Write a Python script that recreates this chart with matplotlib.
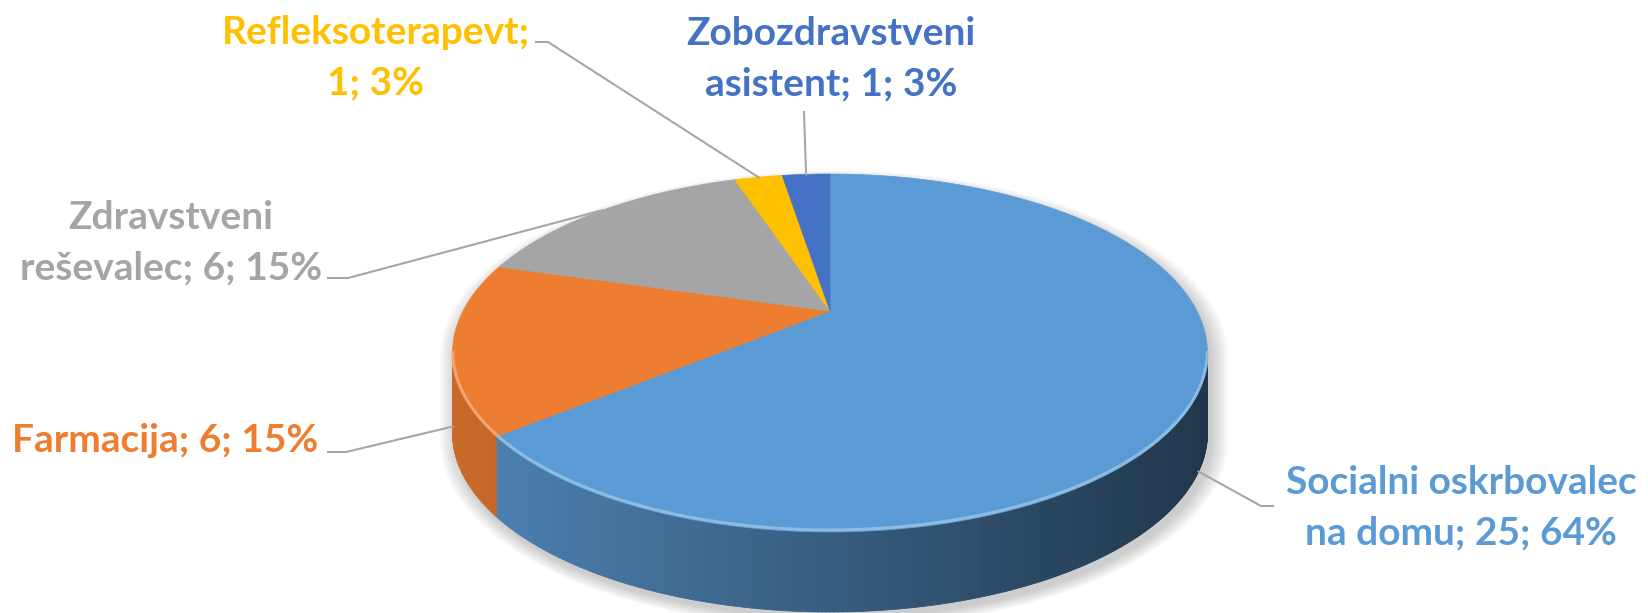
import numpy as np
import matplotlib

matplotlib.use("Agg")
import matplotlib.pyplot as plt
from matplotlib.collections import PolyCollection
from matplotlib.colors import to_rgb

# data, in the order Excel draws the slices (clockwise from 12 o'clock)
categories = ["Socialni oskrbovalec na domu", "Farmacija", "Zdravstveni reševalec",
              "Refleksoterapevt", "Zobozdravstveni asistent"]
values = [25, 6, 6, 1, 1]
colors = ["#5B9BD5", "#ED7D31", "#A5A5A5", "#FFC000", "#4472C4"]
wrap_after = ["oskrbovalec", None, "Zdravstveni", "Refleksoterapevt;", "Zobozdravstveni"]

# label placement (pixels) and leader-line elbows
label_pos = [(1461, 508), (165, 440), (171, 243), (376, 58), (831, 59)]
elbows = [[(1261, 506), (1273, 506)], [(346, 452), (328, 452)], [(348, 278), (328, 278)],
          [(548, 42), (536, 42)], [(804, 112)]]

W, H = 1648, 613
CX, CY = 830, 311                     # projected pie centre
F, D, ALPHA = 1388.0, 3.783, np.radians(27.45)
DEPTH = 80                            # side wall height on screen
LEADER = "#A6A6A6"


def project(phi):
    x, y = np.cos(phi), np.sin(phi)
    d = D + y * np.cos(ALPHA)
    return np.column_stack([CX + F * x / d, CY - F * y * np.sin(ALPHA) / d])


def shade(rgb, k):
    return tuple(np.clip(np.array(rgb) * k, 0, 1))


total = sum(values)
cum = np.concatenate([[0], np.cumsum(values)]) / total
th = np.pi / 2 - 2 * np.pi * cum              # slice boundaries, clockwise
phi_r = -np.arcsin(np.cos(ALPHA) / D)         # silhouette extremities
phi_l = -np.pi - phi_r
rx = F / np.sqrt(D**2 - np.cos(ALPHA) ** 2)

fig = plt.figure(figsize=(W / 100, H / 100), dpi=100)
ax = fig.add_axes([0, 0, 1, 1])
ax.set_xlim(0, W)
ax.set_ylim(H, 0)
ax.axis("off")

# soft shadow under the pie
upper = project(np.linspace(phi_r, phi_l + 2 * np.pi, 300))
lower = project(np.linspace(phi_l, phi_r, 300)) + [0, DEPTH]
sil = np.vstack([upper, lower])
centre = sil.mean(axis=0)
for k in range(12):
    pts = (sil - centre) * (1 + 0.004 * k) + centre + [4, 6]
    ax.fill(pts[:, 0], pts[:, 1], color="0.45", alpha=0.03, lw=0, zorder=1)

# side walls
quads, qcols = [], []
for i, c in enumerate(colors):
    a, b = th[i + 1], th[i]
    for shift in (0, -2 * np.pi, 2 * np.pi):
        lo, hi = max(a + shift, phi_l), min(b + shift, phi_r)
        if hi <= lo:
            continue
        ph = np.linspace(lo, hi, max(3, int(np.degrees(hi - lo) * 2)))
        p = project(ph)
        for j in range(len(ph) - 1):
            q = [p[j], p[j + 1], p[j + 1] + [0, DEPTH], p[j] + [0, DEPTH]]
            u = (0.5 * (p[j, 0] + p[j + 1, 0]) - CX) / rx
            quads.append(q)
            qcols.append(shade(to_rgb(c), 0.6 - 0.25 * u))
ax.add_collection(PolyCollection(quads, facecolors=qcols, edgecolors=qcols, linewidths=0.6, zorder=2))

# top faces
for i, c in enumerate(colors):
    ph = np.linspace(th[i], th[i + 1], 200)
    p = np.vstack([[CX, CY], project(ph)])
    ax.fill(p[:, 0], p[:, 1], color=c, lw=0.5, ec=c, zorder=3)
    lo, hi = max(th[i + 1], phi_l), min(th[i], phi_r)
    if hi > lo:
        e = project(np.linspace(lo, hi, 100))
        light = tuple(np.array(to_rgb(c)) * 0.6 + 0.4)
        ax.plot(e[:, 0], e[:, 1] - 2, color=light, lw=2.2, alpha=0.8, zorder=4,
                solid_capstyle="butt")

# labels and leader lines
for i, (name, v, c) in enumerate(zip(categories, values, colors)):
    pct = round(100 * v / total)
    text = f"{name}; {v}; {pct}%"
    key = wrap_after[i]
    if key and key.endswith(";"):
        text = text.replace(key + " ", key + "\n", 1)
    elif key:
        text = text.replace(key + " ", key + "\n", 1)
    x, y = label_pos[i]
    ax.text(x, y, text, ha="center", va="center", color=c, fontsize=28,
            fontweight="bold", family=["Lato", "DejaVu Sans"], linespacing=1.55, zorder=6)

    mid = 0.5 * (th[i] + th[i + 1])
    a = project(np.array([mid]))[0]
    if np.sin(mid) < 0:                       # front slices: leader starts at the wall bottom
        a = a + [0, DEPTH]
    pts = np.vstack([a, elbows[i]])
    ax.plot(pts[:, 0], pts[:, 1], color=LEADER, lw=1.5, zorder=5)

fig.savefig("out.png", dpi=100)
